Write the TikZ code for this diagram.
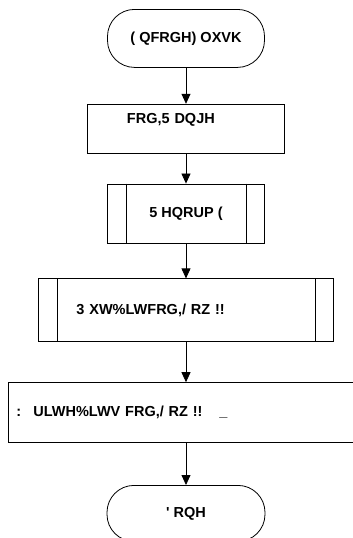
\documentclass[tikz,border=0pt]{standalone}
\usepackage{fontspec}
\setmainfont{Liberation Sans}
\usetikzlibrary{matrix,arrows.meta,calc}

\tikzset{
	flowline/.style={-{Triangle[width=9pt,length=10pt]}, line width=0.8pt},
	terminal/.style={draw, line width=0.8pt, rounded corners=27pt},
	procbox/.style={draw, line width=0.8pt},
	leftbox/.style 2 args={procbox, align=left, inner xsep=#1, text width=#2},
}

\begin{document}
\begin{tikzpicture}
			\matrix (b) [matrix of nodes, row sep=30pt,
				nodes={font=\fontsize{14.5}{16}\selectfont\bfseries, inner ysep=0pt}]
			{
				|[terminal, minimum width=157pt, minimum height=58pt]| ( QFRGH) OXVK \\[6pt]
				|[leftbox={39.5pt}{118pt}, minimum height=49pt, text depth=20pt]| FRG,5 DQJH \\
				|[procbox, minimum width=157pt, minimum height=59pt]| 5 HQRUP ( \\[5pt]
				|[leftbox={38pt}{219pt}, minimum height=63pt]| 3 XW\%LWFRG,/ RZ !! \\[10pt]
				|[leftbox={8pt}{339pt}, minimum height=60pt]| : \ ULWH\%LWV FRG,/ RZ !! \ \ \_ \\[12pt]
				|[terminal, minimum width=158pt, minimum height=56pt]| \textquotesingle\ RQH \\
			};
			\path[flowline]
			(b-1-1) edge (b-2-1)
			(b-2-1) edge (b-3-1)
			(b-3-1) edge (b-4-1)
			(b-4-1) edge (b-5-1)
			(b-5-1) edge (b-6-1);
			% side bars of the predefined process boxes
			\foreach \n in {3,4}
			{
				\draw[line width=0.8pt] ([xshift=19pt]b-\n-1.north west) -- ([xshift=19pt]b-\n-1.south west);
				\draw[line width=0.8pt] ([xshift=-19pt]b-\n-1.north east) -- ([xshift=-19pt]b-\n-1.south east);
			}
			\pgfresetboundingbox
			\useasboundingbox ($(b-1-1.north)+(-186pt,9pt)$) rectangle ++(353pt,-538pt);
		\end{tikzpicture}
\end{document}
